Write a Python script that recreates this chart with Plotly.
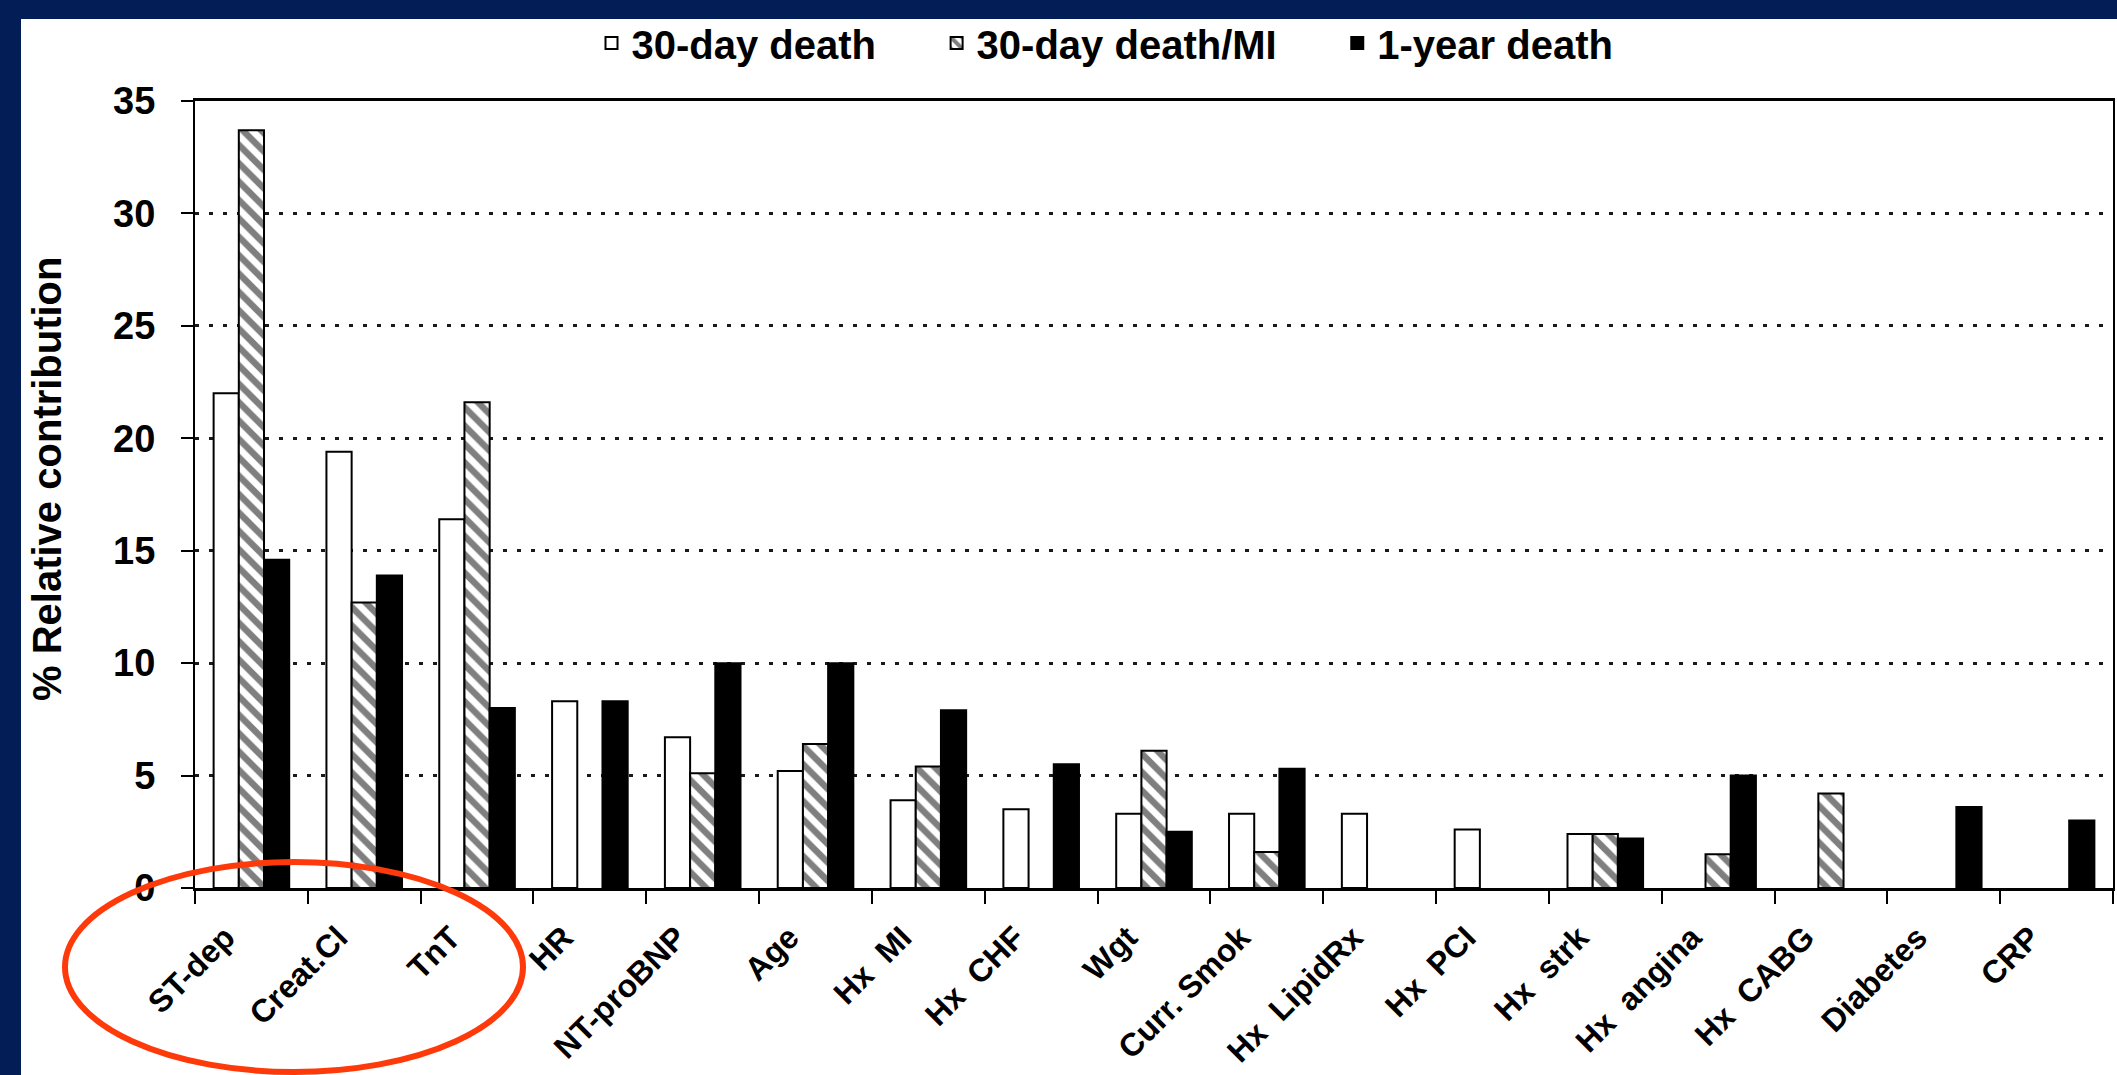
import plotly.graph_objects as go

# Predictor categories (double gaps kept with non-breaking spaces)
categories = [
    "ST-dep", "Creat.Cl", "TnT", "HR", "NT-proBNP", "Age",
    "Hx\u00a0\u00a0MI", "Hx\u00a0\u00a0CHF", "Wgt", "Curr. Smok",
    "Hx\u00a0\u00a0LipidRx", "Hx\u00a0\u00a0PCI", "Hx\u00a0\u00a0strk",
    "Hx\u00a0\u00a0angina", "Hx\u00a0\u00a0CABG", "Diabetes", "CRP",
]

# % relative contribution per outcome model (None = not in model)
death_30d = [22.0, 19.4, 16.4, 8.3, 6.7, 5.2, 3.9, 3.5, 3.3, 3.3, 3.3, 2.6, 2.4,
             None, None, None, None]
death_mi_30d = [33.7, 12.7, 21.6, None, 5.1, 6.4, 5.4, None, 6.1, 1.6, None, None, 2.4,
                1.5, 4.2, None, None]
death_1y = [14.6, 13.9, 8.0, 8.3, 10.0, 10.0, 7.9, 5.5, 2.5, 5.3, None, None, 2.2,
            5.0, None, 3.6, 3.0]

y_ticks = [0, 5, 10, 15, 20, 25, 30, 35]

FONT = "Liberation Sans, Arial, Helvetica, sans-serif"
NAVY = "#031d57"
PAD = "\u00a0" * 5  # extra room between legend entries

W, H = 2117, 1075
ML, MR, MT, MB = 195, 4, 101, 187
PW, PH = W - ML - MR, H - MT - MB


def px_x(px):
    return (px - ML) / PW


def px_y(py):
    return (H - MB - py) / PH


outline = dict(color="black", width=2)

fig = go.Figure()
fig.add_trace(go.Bar(
    name="30-day death" + PAD, x=categories, y=death_30d,
    marker=dict(color="white", line=outline),
))
fig.add_trace(go.Bar(
    name="30-day death/MI" + PAD, x=categories, y=death_mi_30d,
    marker=dict(color="white", line=outline,
                pattern=dict(shape="\\", fgcolor="black", bgcolor="white",
                             size=13, solidity=0.5)),
))
fig.add_trace(go.Bar(
    name="1-year death", x=categories, y=death_1y,
    marker=dict(color="black", line=outline),
))

fig.update_layout(
    width=W, height=H,
    margin=dict(l=ML, r=MR, t=MT, b=MB, autoexpand=False),
    paper_bgcolor=NAVY,
    plot_bgcolor="white",
    barmode="group",
    bargap=0.33,
    bargroupgap=0,
    font=dict(family=FONT, color="black"),
    showlegend=True,
    legend=dict(
        orientation="h", x=px_x(1105), xanchor="center",
        y=px_y(43), yanchor="middle",
        font=dict(family=FONT, size=40, weight="bold", color="black"),
        bgcolor="rgba(0,0,0,0)", traceorder="normal",
        itemwidth=30,
    ),
    xaxis=dict(
        type="category", automargin=False,
        showline=True, linecolor="black", linewidth=3, mirror=True,
        ticks="outside", tickson="boundaries", ticklen=13, tickwidth=2,
        tickcolor="black", tickangle=-45,
        tickfont=dict(family=FONT, size=32, weight="bold", color="black"),
        ticklabelshift=-26, ticklabelstandoff=15,
        showgrid=False,
    ),
    yaxis=dict(
        range=[0, 35], tickvals=y_ticks, automargin=False,
        showline=True, linecolor="black", linewidth=2, mirror=True,
        ticks="outside", ticklen=12, tickwidth=2, tickcolor="black",
        tickfont=dict(family=FONT, size=38, weight="bold", color="black"),
        ticklabelstandoff=18,
        showgrid=True, gridcolor="#1a1a1a", gridwidth=2.5, griddash="4px,10px",
        zeroline=False,
    ),
    shapes=[
        # white page behind the chart
        dict(type="rect", xref="paper", yref="paper", layer="below",
             x0=px_x(21), x1=px_x(2130), y0=px_y(1090), y1=px_y(19),
             fillcolor="white", line=dict(width=0)),
        # red highlight ring around the top three predictors
        dict(type="circle", xref="paper", yref="paper", layer="above",
             x0=px_x(65), x1=px_x(523), y0=px_y(1072), y1=px_y(862),
             line=dict(color="#ff3a0a", width=6), fillcolor="rgba(0,0,0,0)"),
    ],
    annotations=[
        dict(text="% Relative contribution", xref="paper", yref="paper",
             x=px_x(47), y=px_y(479), xanchor="center", yanchor="middle",
             textangle=-90, showarrow=False,
             font=dict(family=FONT, size=40, weight="bold", color="black")),
    ],
)

fig.write_html("out.html")
